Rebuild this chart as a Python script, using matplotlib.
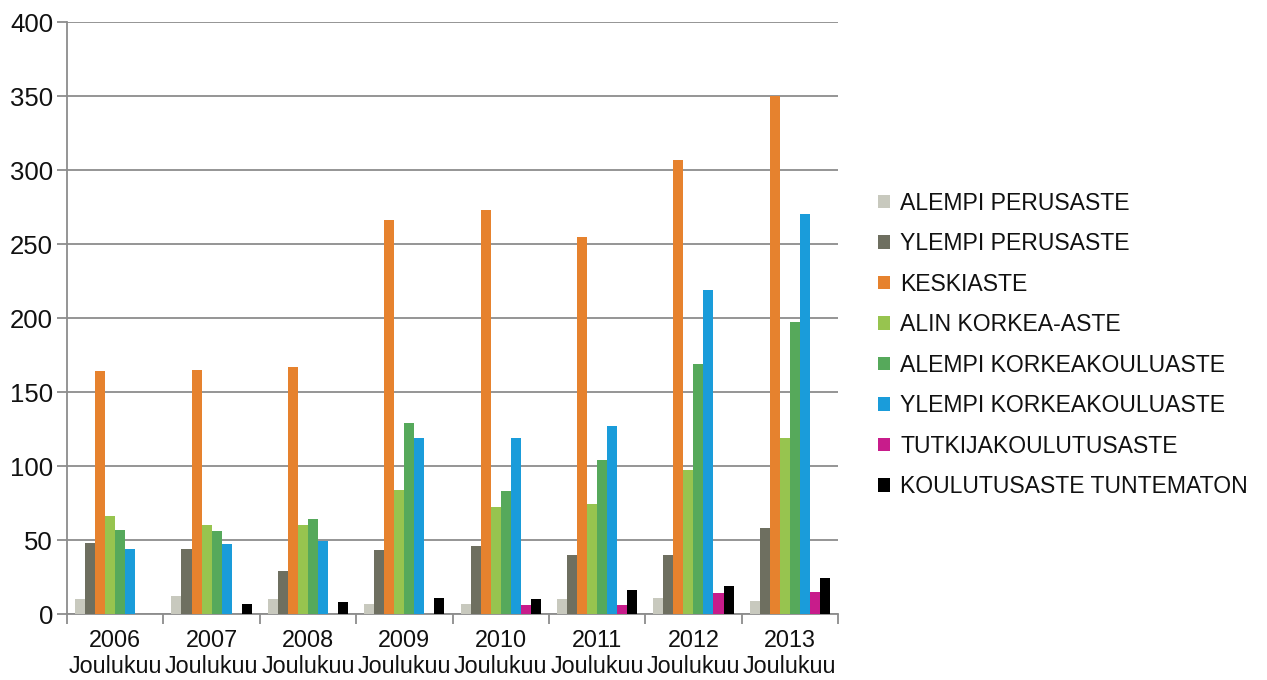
import matplotlib
matplotlib.use("Agg")
import matplotlib.pyplot as plt
from matplotlib.patches import Patch
import numpy as np

plt.rcParams['font.family'] = ['Liberation Sans', 'DejaVu Sans']

years = ["2006", "2007", "2008", "2009", "2010", "2011", "2012", "2013"]
month = "Joulukuu"

series_names = [
    "ALEMPI PERUSASTE",
    "YLEMPI PERUSASTE",
    "KESKIASTE",
    "ALIN KORKEA-ASTE",
    "ALEMPI KORKEAKOULUASTE",
    "YLEMPI KORKEAKOULUASTE",
    "TUTKIJAKOULUTUSASTE",
    "KOULUTUSASTE TUNTEMATON",
]

alempi_perusaste = [10, 12, 10, 7, 7, 10, 11, 9]
ylempi_perusaste = [48, 44, 29, 43, 46, 40, 40, 58]
keskiaste = [164, 165, 167, 266, 273, 255, 307, 350]
alin_korkea_aste = [66, 60, 60, 84, 72, 74, 97, 119]
alempi_korkeakouluaste = [57, 56, 64, 129, 83, 104, 169, 197]
ylempi_korkeakouluaste = [44, 47, 49, 119, 119, 127, 219, 270]
tutkijakoulutusaste = [0, 0, 0, 0, 6, 6, 14, 15]
tuntematon = [0, 7, 8, 11, 10, 16, 19, 24]

series_values = [
    alempi_perusaste, ylempi_perusaste, keskiaste, alin_korkea_aste,
    alempi_korkeakouluaste, ylempi_korkeakouluaste, tutkijakoulutusaste, tuntematon,
]

colors = ["#C8C9BE", "#6E6F60", "#E6822E", "#97C44F", "#56A95B",
          "#1A9CDA", "#C81C8B", "#000000"]

fig = plt.figure(figsize=(12.67, 6.8), dpi=100)
ax = fig.add_axes([67 / 1267, 66 / 680, (838 - 67) / 1267, (614 - 22) / 680])

n = len(series_values)
bar_w = 0.104
x = np.arange(len(years))
for i, (vals, col) in enumerate(zip(series_values, colors)):
    offs = (i - (n - 1) / 2) * bar_w
    ax.bar(x + offs, vals, width=bar_w, color=col, label=series_names[i],
           zorder=3, linewidth=0)

ax.set_xlim(-0.5, len(years) - 0.5)
ax.set_ylim(0, 400)
ax.set_yticks(np.arange(0, 401, 50))
ax.yaxis.grid(True, color="#8C8C8C", linewidth=1.3, zorder=0)
ax.set_axisbelow(True)

ax.set_xticks(x)
ax.set_xticklabels([f"{y}\n{month}" for y in years], fontsize=16.8, color="#111111",
                   linespacing=1.15)
ax.set_xticks(np.arange(-0.5, len(years), 1.0), minor=True)
ax.tick_params(axis="x", which="major", length=0, pad=11)
ax.tick_params(axis="x", which="minor", length=7, width=1.3, color="#8C8C8C",
               direction="out")
ax.tick_params(axis="y", length=7, width=1.3, color="#8C8C8C", labelsize=18.5,
               labelcolor="#111111", pad=3)

for side in ("top", "right"):
    ax.spines[side].set_visible(False)
for side in ("left", "bottom"):
    ax.spines[side].set_color("#8C8C8C")
    ax.spines[side].set_linewidth(1.3)

handles = [Patch(facecolor=c, edgecolor="none") for c in colors]
fig.legend(handles, series_names, loc="center left",
           bbox_to_anchor=(857 / 1267, 1 - 345 / 680), frameon=False,
           fontsize=16.6, handlelength=0.53, handleheight=0.53, handletextpad=0.45,
           labelspacing=0.76, labelcolor="#111111")

fig.savefig("out.png", dpi=100)
